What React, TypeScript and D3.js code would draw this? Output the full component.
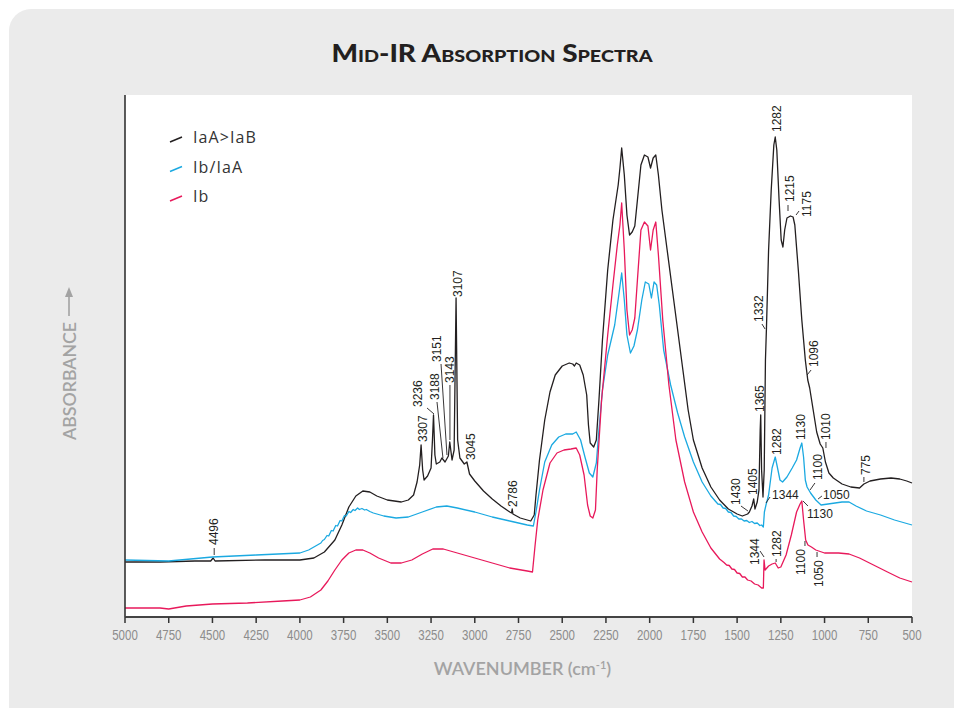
import React from 'react';
import * as d3 from 'd3';

const W = 954;
const H = 708;
const plot = { left: 125, right: 912, top: 95, bottom: 617 };

// wavenumber ticks (cm-1)
const xTicks = [5000, 4750, 4500, 4250, 4000, 3750, 3500, 3250, 3000, 2750, 2500, 2250, 2000, 1750, 1500, 1250, 1000, 750, 500];

const seriesNames = ['IaA>IaB', 'Ib/IaA', 'Ib'];
const seriesColors = ['#231f20', '#1ba9e1', '#e8195b'];

// [wavenumber, absorbance (arbitrary, offset)]
const iaaIab: [number, number][] = [
  [5000, 0.55], [4800, 0.55], [4600, 0.56], [4510, 0.56], [4496, 0.59], [4485, 0.56], [4200, 0.57], [4000, 0.57],
  [3920, 0.59], [3860, 0.65], [3800, 0.77], [3760, 0.92], [3720, 1.10], [3680, 1.21], [3640, 1.26], [3600, 1.25],
  [3560, 1.21], [3500, 1.17], [3420, 1.15], [3380, 1.17], [3350, 1.22], [3330, 1.35], [3315, 1.52], [3307, 1.72],
  [3298, 1.47], [3290, 1.37], [3270, 1.41], [3250, 1.49], [3242, 1.77], [3236, 2.02], [3228, 1.62], [3220, 1.53],
  [3200, 1.55], [3188, 1.59], [3170, 1.55], [3151, 1.61], [3143, 1.75], [3130, 1.57], [3118, 1.67], [3107, 3.19],
  [3098, 1.77], [3085, 1.59], [3060, 1.53], [3045, 1.55], [3030, 1.43], [3000, 1.36], [2950, 1.26], [2900, 1.18],
  [2850, 1.11], [2800, 1.05], [2790, 1.04], [2786, 1.08], [2782, 1.03], [2740, 0.99], [2700, 0.97], [2680, 0.96],
  [2660, 1.02], [2650, 1.22], [2630, 1.57], [2600, 1.97], [2570, 2.25], [2540, 2.42], [2500, 2.51], [2460, 2.54],
  [2440, 2.53], [2430, 2.51], [2420, 2.54], [2400, 2.52], [2380, 2.42], [2360, 2.22], [2350, 1.92], [2340, 1.74],
  [2320, 1.70], [2305, 1.77], [2290, 2.17], [2270, 2.77], [2240, 3.47], [2210, 3.97], [2180, 4.32], [2170, 4.49],
  [2160, 4.69], [2145, 4.42], [2130, 4.02], [2115, 3.82], [2100, 3.85], [2085, 3.91], [2070, 4.17], [2050, 4.52],
  [2030, 4.62], [2010, 4.60], [1995, 4.49], [1980, 4.59], [1965, 4.62], [1950, 4.42], [1930, 4.07], [1900, 3.67],
  [1870, 3.27], [1840, 2.87], [1810, 2.47], [1780, 2.07], [1750, 1.77], [1700, 1.49], [1650, 1.30], [1600, 1.17],
  [1550, 1.08], [1500, 1.03], [1470, 1.01], [1440, 1.03], [1430, 1.05], [1415, 1.11], [1405, 1.18], [1398, 1.08],
  [1385, 1.15], [1375, 1.27], [1368, 1.87], [1365, 2.02], [1360, 1.47], [1352, 1.20], [1345, 1.47], [1338, 2.57],
  [1332, 2.90], [1320, 3.67], [1305, 4.27], [1290, 4.72], [1282, 4.80], [1273, 4.67], [1260, 4.17], [1248, 3.77],
  [1238, 3.70], [1228, 3.87], [1215, 3.99], [1195, 4.01], [1180, 4.00], [1170, 3.92], [1150, 3.47], [1130, 2.97],
  [1110, 2.57], [1096, 2.37], [1085, 2.29], [1065, 2.07], [1045, 1.85], [1025, 1.73], [1010, 1.69], [995, 1.55],
  [975, 1.44], [950, 1.39], [900, 1.33], [850, 1.30], [800, 1.29], [775, 1.33], [740, 1.36], [680, 1.38],
  [620, 1.39], [570, 1.38], [530, 1.36], [500, 1.34],
];

const ibIaa: [number, number][] = [
  [5000, 0.57], [4750, 0.56], [4500, 0.60], [4250, 0.62], [4000, 0.64], [3950, 0.67], [3900, 0.72], [3880, 0.74],
  [3870, 0.765], [3860, 0.775], [3845, 0.815], [3835, 0.81], [3820, 0.865], [3810, 0.86], [3795, 0.915], [3785, 0.91],
  [3770, 0.965], [3760, 0.96], [3745, 1.015], [3735, 1.01], [3720, 1.055], [3710, 1.045], [3695, 1.075], [3685, 1.065],
  [3670, 1.09], [3660, 1.075], [3645, 1.085], [3630, 1.07], [3620, 1.075], [3600, 1.055], [3580, 1.04], [3520, 1.01],
  [3450, 0.99], [3380, 1.00], [3300, 1.05], [3220, 1.10], [3160, 1.11], [3100, 1.09], [3000, 1.05], [2900, 1.00],
  [2800, 0.96], [2700, 0.92], [2665, 0.91], [2650, 1.05], [2630, 1.27], [2600, 1.55], [2560, 1.72], [2520, 1.80],
  [2480, 1.83], [2440, 1.83], [2420, 1.85], [2395, 1.77], [2370, 1.60], [2345, 1.44], [2325, 1.40], [2305, 1.54],
  [2290, 1.87], [2270, 2.27], [2240, 2.62], [2200, 2.92], [2175, 3.24], [2160, 3.44], [2145, 3.17], [2130, 2.82],
  [2110, 2.64], [2090, 2.71], [2070, 2.87], [2045, 3.17], [2025, 3.35], [2005, 3.33], [1990, 3.19], [1975, 3.35],
  [1960, 3.32], [1945, 3.12], [1920, 2.67], [1880, 2.32], [1840, 2.04], [1800, 1.80], [1750, 1.55], [1700, 1.35],
  [1650, 1.21], [1620, 1.15], [1610, 1.13], [1595, 1.125], [1580, 1.09], [1565, 1.085], [1550, 1.05], [1535, 1.045],
  [1520, 1.01], [1505, 1.005], [1490, 0.98], [1475, 0.98], [1460, 0.96], [1445, 0.965], [1430, 0.945], [1415, 0.955],
  [1400, 0.935], [1385, 0.94], [1370, 0.915], [1360, 0.92], [1350, 0.90],
  [1344, 1.05], [1335, 1.12], [1320, 1.22], [1300, 1.49], [1282, 1.60], [1270, 1.50], [1255, 1.37], [1240, 1.35],
  [1215, 1.40], [1185, 1.49], [1160, 1.57], [1140, 1.69], [1130, 1.74], [1120, 1.60], [1110, 1.37], [1100, 1.30],
  [1080, 1.24], [1050, 1.17], [1020, 1.12], [980, 1.13], [900, 1.15], [860, 1.15], [820, 1.11], [760, 1.06],
  [680, 1.02], [600, 0.97], [500, 0.92],
];

const ib: [number, number][] = [
  [5000, 0.09], [4800, 0.09], [4750, 0.08], [4650, 0.11], [4500, 0.13], [4300, 0.14], [4100, 0.16], [4000, 0.17],
  [3940, 0.20], [3880, 0.27], [3840, 0.36], [3800, 0.47], [3760, 0.57], [3720, 0.64], [3680, 0.67], [3640, 0.67],
  [3600, 0.64], [3550, 0.59], [3480, 0.54], [3420, 0.54], [3360, 0.57], [3300, 0.63], [3240, 0.68], [3180, 0.68],
  [3120, 0.65], [3000, 0.59], [2900, 0.54], [2800, 0.49], [2700, 0.46], [2670, 0.45], [2655, 0.72], [2640, 0.97],
  [2610, 1.27], [2570, 1.54], [2530, 1.64], [2490, 1.67], [2450, 1.68], [2420, 1.69], [2400, 1.62], [2375, 1.42],
  [2355, 1.12], [2340, 1.01], [2325, 0.99], [2310, 1.07], [2300, 1.47], [2275, 2.17], [2240, 2.82], [2210, 3.32],
  [2185, 3.72], [2170, 3.92], [2160, 4.14], [2145, 3.67], [2130, 3.07], [2115, 2.82], [2100, 2.87], [2085, 2.99],
  [2070, 3.37], [2050, 3.87], [2030, 3.95], [2010, 3.91], [1995, 3.67], [1980, 3.87], [1965, 3.95], [1950, 3.62],
  [1925, 2.97], [1890, 2.32], [1850, 1.77], [1800, 1.35], [1750, 1.05], [1700, 0.85], [1650, 0.69], [1600, 0.58],
  [1575, 0.545], [1560, 0.52], [1545, 0.515], [1530, 0.48], [1515, 0.475], [1500, 0.44], [1485, 0.435], [1470, 0.40],
  [1455, 0.40], [1440, 0.37], [1420, 0.36], [1400, 0.33], [1380, 0.32], [1360, 0.29], [1350, 0.29],
  [1346, 0.57], [1340, 0.47],
  [1320, 0.51], [1300, 0.53], [1282, 0.54], [1265, 0.49], [1250, 0.50], [1220, 0.62], [1190, 0.82], [1160, 1.05],
  [1140, 1.13], [1130, 1.16], [1120, 0.97], [1108, 0.77], [1095, 0.72], [1075, 0.70], [1050, 0.67], [1000, 0.64],
  [920, 0.64], [860, 0.63], [800, 0.59], [720, 0.52], [640, 0.45], [570, 0.39], [500, 0.35],
];

const allSeries = [iaaIab, ibIaa, ib];

// peak annotations: label position in data units, optional leader [wn1, a1, wn2, a2]
const peakLabels: { t: string; x: number; y: number; rot: boolean; l?: number[] }[] = [
  { t: '4496', x: 4490, y: 0.72, rot: true, l: [4490, 0.62, 4490, 0.69] },
  { t: '3307', x: 3296, y: 1.75, rot: true },
  { t: '3236', x: 3325, y: 2.10, rot: true, l: [3273, 2.09, 3233, 2.03] },
  { t: '3188', x: 3227, y: 2.17, rot: true, l: [3216, 2.15, 3182, 1.59] },
  { t: '3151', x: 3216, y: 2.55, rot: true, l: [3193, 2.53, 3159, 1.62] },
  { t: '3143', x: 3142, y: 2.34, rot: true, l: [3142, 2.32, 3142, 1.77] },
  { t: '3107', x: 3096, y: 3.20, rot: true },
  { t: '3045', x: 3022, y: 1.57, rot: true },
  { t: '2786', x: 2781, y: 1.10, rot: true },
  { t: '1430', x: 1506, y: 1.12, rot: true, l: [1478, 1.11, 1438, 1.06] },
  { t: '1405', x: 1409, y: 1.22, rot: true },
  { t: '1365', x: 1369, y: 2.05, rot: true },
  { t: '1332', x: 1375, y: 2.95, rot: true, l: [1358, 2.93, 1340, 2.88] },
  { t: '1282', x: 1272, y: 4.85, rot: true },
  { t: '1215', x: 1198, y: 4.15, rot: true, l: [1209, 4.12, 1209, 4.06] },
  { t: '1175', x: 1100, y: 4.00, rot: true, l: [1146, 4.06, 1163, 4.02] },
  { t: '1096', x: 1060, y: 2.50, rot: true, l: [1077, 2.47, 1100, 2.42] },
  { t: '1010', x: 992, y: 1.77, rot: true, l: [992, 1.75, 992, 1.69] },
  { t: '775', x: 763, y: 1.42, rot: true, l: [775, 1.40, 775, 1.35] },
  { t: '1282', x: 1272, y: 1.62, rot: true },
  { t: '1130', x: 1135, y: 1.77, rot: true },
  { t: '1100', x: 1037, y: 1.37, rot: true, l: [1055, 1.34, 1083, 1.27] },
  { t: '1344', x: 1398, y: 0.52, rot: true, l: [1369, 0.66, 1346, 0.60] },
  { t: '1282', x: 1272, y: 0.60, rot: true, l: [1277, 0.58, 1277, 0.55] },
  { t: '1100', x: 1135, y: 0.42, rot: true, l: [1112, 0.71, 1112, 0.76] },
  { t: '1050', x: 1032, y: 0.30, rot: true, l: [1043, 0.60, 1043, 0.65] },
  { t: '1344', x: 1300, y: 1.18, rot: false, l: [1312, 1.20, 1335, 1.14] },
  { t: '1050', x: 1009, y: 1.18, rot: false, l: [1015, 1.21, 1037, 1.18] },
  { t: '1130', x: 1100, y: 0.99, rot: false, l: [1095, 1.11, 1123, 1.16] },
];

const x = d3.scaleLinear().domain([5000, 500]).range([plot.left, plot.right]);
const y = d3.scaleLinear().domain([0, 5.22]).range([plot.bottom, plot.top]);

const line = d3.line<[number, number]>()
  .x(d => x(d[0]))
  .y(d => y(d[1]));

const labelFont = "'Liberation Sans', Arial, sans-serif";
const titleFont = "Lato, 'Open Sans', sans-serif";

export default function App() {
  return (
    <svg width={W} height={H} style={{ position: 'absolute', left: 0, top: 0, background: '#fff' }}>
      <rect x={9} y={9} width={W + 30} height={H + 30} rx={22} fill="#ebebeb" />

      <text x={492} y={62} textAnchor="middle" fontFamily={titleFont} fontWeight={900} fontSize={24}
        textLength={321} lengthAdjust="spacingAndGlyphs"
        style={{ fontVariant: 'small-caps' }} fill="#231f20">Mid-IR Absorption Spectra</text>

      <rect x={plot.left} y={plot.top} width={plot.right - plot.left} height={plot.bottom - plot.top} fill="#fff" />

      {allSeries.map((s, i) => (
        <path key={i} d={line(s) || ''} fill="none" stroke={seriesColors[i]} strokeWidth={1.3} strokeLinejoin="round" />
      ))}

      {peakLabels.map((p, i) => (
        <g key={i}>
          {p.l && (
            <line x1={x(p.l[0])} y1={y(p.l[1])} x2={x(p.l[2])} y2={y(p.l[3])} stroke="#231f20" strokeWidth={0.9} />
          )}
          {p.rot ? (
            <text transform={`translate(${x(p.x)},${y(p.y)}) rotate(-90)`} dominantBaseline="central"
              fontFamily={labelFont} fontSize={12} fill="#231f20">{p.t}</text>
          ) : (
            <text x={x(p.x)} y={y(p.y)} fontFamily={labelFont} fontSize={12} fill="#231f20">{p.t}</text>
          )}
        </g>
      ))}

      {/* legend */}
      {seriesNames.map((n, i) => (
        <g key={n} transform={`translate(170,${137 + i * 29.5})`}>
          <line x1={0} y1={5} x2={12} y2={0} stroke={seriesColors[i]} strokeWidth={1.5} />
          <text x={23} y={6} fontFamily="'Open Sans', sans-serif" fontSize={16} letterSpacing={1.1} fill="#333">{n}</text>
        </g>
      ))}

      {/* axes */}
      <line x1={plot.left} y1={plot.top} x2={plot.left} y2={plot.bottom} stroke="#333" strokeWidth={1.6} />
      <line x1={plot.left} y1={plot.bottom} x2={plot.right} y2={plot.bottom} stroke="#444" strokeWidth={2} />
      {xTicks.map(t => (
        <g key={t} transform={`translate(${x(t)},${plot.bottom})`}>
          <line y1={0} y2={6} stroke="#333" strokeWidth={1.5} />
          <text transform="translate(0,23) scale(0.82,1)" textAnchor="middle" fontFamily={labelFont}
            fontSize={14} fill="#8c8c8c">{t}</text>
        </g>
      ))}

      <text x={(plot.left + plot.right) / 2 + 4} y={675} textAnchor="middle" fontFamily={titleFont} fontSize={18}
        fontWeight={600} fill="#a3a3a3">WAVENUMBER (cm<tspan dy={-6} fontSize={11}>-1</tspan><tspan dy={6}>)</tspan></text>

      <g transform="translate(69,440) rotate(-90)">
        <text x={0} y={0} dominantBaseline="central" fontFamily={titleFont} fontWeight={600} fontSize={17}
          textLength={118} lengthAdjust="spacingAndGlyphs" fill="#a3a3a3">ABSORBANCE</text>
        <line x1={124} y1={0} x2={150} y2={0} stroke="#a3a3a3" strokeWidth={1.6} />
        <path d="M153,0 L143,-4 L143,4 Z" fill="#a3a3a3" />
      </g>
    </svg>
  );
}
